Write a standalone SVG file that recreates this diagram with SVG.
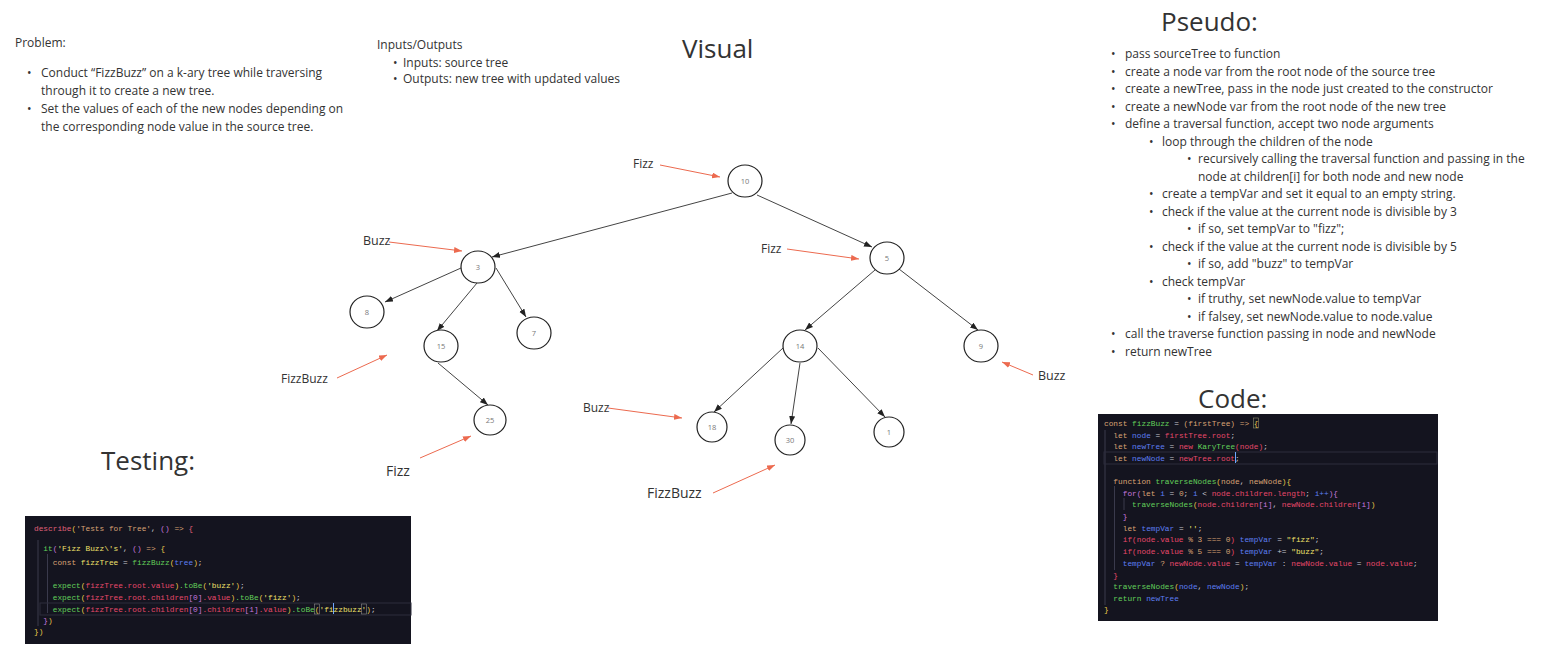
<svg xmlns="http://www.w3.org/2000/svg" width="1542" height="648" viewBox="0 0 1542 648">
<style>
.t{font-family:"Open Sans","Liberation Sans",sans-serif;fill:#333}
.b{font-size:12px}
.ti{font-size:26px;fill:#333}
.nt{font-family:"Open Sans","Liberation Sans",sans-serif;font-size:7.5px;fill:#777;text-anchor:middle}
.nd{fill:#fff;stroke:#222;stroke-width:1.2}
.e{stroke:#444;stroke-width:1;fill:none;marker-end:url(#ah)}
.a{stroke:#ec6a4f;stroke-width:1;fill:none;marker-end:url(#ar)}
.c text{font-family:"Liberation Mono","DejaVu Sans Mono",monospace;font-size:7.8px;fill:#c8c8d0;white-space:pre}
.k{fill:#d8a274}.f{fill:#62cf5a}.v{fill:#5d7ef2}.p{fill:#e6486a}.s{fill:#efe06a}.y{fill:#e8c84a}.u{fill:#c678dd}.r{fill:#e0607a}
.g{stroke:#3a3a4c;stroke-width:1}
</style>
<defs>
<marker id="ah" markerUnits="userSpaceOnUse" markerWidth="9" markerHeight="7" refX="8" refY="3" orient="auto"><path d="M0,0 L8,3 L0,6 z" fill="#222"/></marker>
<marker id="ar" markerUnits="userSpaceOnUse" markerWidth="9" markerHeight="7" refX="8" refY="3" orient="auto"><path d="M0,0 L8,3 L0,6 z" fill="#ec6a4f"/></marker>
</defs>
<rect width="1542" height="648" fill="#fff"/>

<g id="problem" class="t b">
<text x="15" y="47">Problem:</text>
<text x="27" y="77">•</text><text x="41" y="77">Conduct “FizzBuzz” on a k-ary tree while traversing</text>
<text x="41" y="95">through it to create a new tree.</text>
<text x="27" y="113">•</text><text x="41" y="113">Set the values of each of the new nodes depending on</text>
<text x="41" y="131">the corresponding node value in the source tree.</text>
</g>

<g id="io" class="t b">
<text x="377" y="49">Inputs/Outputs</text>
<text x="393" y="67">•</text><text x="403" y="67">Inputs: source tree</text>
<text x="393" y="83">•</text><text x="403" y="83">Outputs: new tree with updated values</text>
</g>

<g id="titles" class="t">
<text class="ti" x="682" y="58">Visual</text>
<text class="ti" x="1161" y="31">Pseudo:</text>
<text class="ti" x="1198" y="408" font-size="27">Code:</text>
<text class="ti" x="101" y="470">Testing:</text>
</g>

<g id="pseudo" class="t b">
<text x="1111" y="58">•</text><text x="1125" y="58">pass sourceTree to function</text>
<text x="1111" y="75.5">•</text><text x="1125" y="75.5">create a node var from the root node of the source tree</text>
<text x="1111" y="93">•</text><text x="1125" y="93">create a newTree, pass in the node just created to the constructor</text>
<text x="1111" y="110.5">•</text><text x="1125" y="110.5">create a newNode var from the root node of the new tree</text>
<text x="1111" y="128">•</text><text x="1125" y="128">define a traversal function, accept two node arguments</text>
<text x="1149" y="145.5">•</text><text x="1162" y="145.5">loop through the children of the node</text>
<text x="1187" y="163">•</text><text x="1198" y="163">recursively calling the traversal function and passing in the</text>
<text x="1198" y="180.5">node at children[i] for both node and new node</text>
<text x="1149" y="198">•</text><text x="1162" y="198">create a tempVar and set it equal to an empty string.</text>
<text x="1149" y="215.5">•</text><text x="1162" y="215.5">check if the value at the current node is divisible by 3</text>
<text x="1187" y="233">•</text><text x="1198" y="233">if so, set tempVar to "fizz";</text>
<text x="1149" y="250.5">•</text><text x="1162" y="250.5">check if the value at the current node is divisible by 5</text>
<text x="1187" y="268">•</text><text x="1198" y="268">if so, add "buzz" to tempVar</text>
<text x="1149" y="285.5">•</text><text x="1162" y="285.5">check tempVar</text>
<text x="1187" y="303">•</text><text x="1198" y="303">if truthy, set newNode.value to tempVar</text>
<text x="1187" y="320.5">•</text><text x="1198" y="320.5">if falsey, set newNode.value to node.value</text>
<text x="1111" y="338">•</text><text x="1125" y="338">call the traverse function passing in node and newNode</text>
<text x="1111" y="355.5">•</text><text x="1125" y="355.5">return newTree</text>
</g>

<g id="connectors">
<line class="e" x1="732" y1="193" x2="492" y2="257"/>
<line class="e" x1="757" y1="195" x2="872" y2="247"/>
<line class="e" x1="461" y1="268" x2="385" y2="302"/>
<line class="e" x1="477" y1="283" x2="437" y2="331"/>
<line class="e" x1="496" y1="268" x2="526" y2="317"/>
<line class="e" x1="438" y1="363" x2="488" y2="405"/>
<line class="e" x1="875" y1="270" x2="805" y2="330"/>
<line class="e" x1="899" y1="269" x2="978" y2="330"/>
<line class="e" x1="783" y1="348" x2="714" y2="412"/>
<line class="e" x1="800" y1="363" x2="791" y2="424"/>
<line class="e" x1="818" y1="348" x2="885" y2="417"/>
<line class="a" x1="660" y1="165" x2="720" y2="177"/>
<line class="a" x1="389" y1="242" x2="462" y2="251"/>
<line class="a" x1="787" y1="249" x2="859" y2="259"/>
<line class="a" x1="337" y1="378" x2="387" y2="355"/>
<line class="a" x1="420" y1="458" x2="471" y2="436"/>
<line class="a" x1="608" y1="408" x2="682" y2="418"/>
<line class="a" x1="713" y1="493" x2="775" y2="465"/>
<line class="a" x1="1033" y1="375" x2="1002" y2="362"/>
</g>

<g id="node-10"><ellipse class="nd" cx="745" cy="181" rx="17" ry="16"/><text class="nt" x="745" y="184">10</text></g>
<g id="node-3"><ellipse class="nd" cx="478" cy="267" rx="17" ry="16"/><text class="nt" x="478" y="270">3</text></g>
<g id="node-5"><ellipse class="nd" cx="887" cy="258" rx="17" ry="16"/><text class="nt" x="887" y="261">5</text></g>
<g id="node-8"><ellipse class="nd" cx="367" cy="312" rx="17" ry="16"/><text class="nt" x="367" y="315">8</text></g>
<g id="node-15"><ellipse class="nd" cx="441" cy="346" rx="17" ry="16"/><text class="nt" x="441" y="349">15</text></g>
<g id="node-7"><ellipse class="nd" cx="534" cy="333" rx="17" ry="16"/><text class="nt" x="534" y="336">7</text></g>
<g id="node-25"><ellipse class="nd" cx="490" cy="420" rx="16" ry="15"/><text class="nt" x="490" y="423">25</text></g>
<g id="node-14"><ellipse class="nd" cx="800" cy="346" rx="17" ry="16"/><text class="nt" x="800" y="349">14</text></g>
<g id="node-9"><ellipse class="nd" cx="981" cy="346" rx="17" ry="16"/><text class="nt" x="981" y="349">9</text></g>
<g id="node-18"><ellipse class="nd" cx="712" cy="427" rx="15" ry="15"/><text class="nt" x="712" y="430">18</text></g>
<g id="node-30"><ellipse class="nd" cx="790" cy="440" rx="15" ry="15"/><text class="nt" x="790" y="443">30</text></g>
<g id="node-1"><ellipse class="nd" cx="889" cy="432" rx="15" ry="15"/><text class="nt" x="889" y="435">1</text></g>

<g id="labels" class="t">
<text x="633" y="168" font-size="12">Fizz</text>
<text x="363" y="245" font-size="12.5">Buzz</text>
<text x="761" y="253" font-size="12">Fizz</text>
<text x="281" y="383" font-size="12">FizzBuzz</text>
<text x="386" y="476" font-size="14">Fizz</text>
<text x="583" y="412" font-size="12">Buzz</text>
<text x="647" y="498" font-size="14">FizzBuzz</text>
<text x="1038" y="380" font-size="12.5">Buzz</text>
</g>

<g id="code" class="c">
<rect x="1098" y="414" width="340" height="207" fill="#14141f"/>
<line class="g" x1="1105" y1="430" x2="1105" y2="605" stroke="#55556a"/>
<line class="g" x1="1114.5" y1="486" x2="1114.5" y2="570"/>
<line class="g" x1="1124" y1="498" x2="1124" y2="510"/>
<rect x="1104" y="452" width="333" height="12" fill="none" stroke="#2c2c3c"/>
<rect x="1253.5" y="418" width="5" height="10" fill="none" stroke="#8a8a6a" stroke-width="0.6"/>
<rect x="1235" y="452" width="1" height="11" fill="#6fa8ff"/>
<text x="1104" y="426" xml:space="preserve"><tspan class="k">const</tspan> <tspan class="f">fizzBuzz</tspan> = <tspan class="k">(firstTree)</tspan> <tspan class="k">=&gt;</tspan> <tspan class="y">{</tspan></text>
<text x="1104" y="438" xml:space="preserve">  <tspan class="k">let</tspan> <tspan class="v">node</tspan> = <tspan class="p">firstTree.root</tspan>;</text>
<text x="1104" y="449" xml:space="preserve">  <tspan class="k">let</tspan> <tspan class="v">newTree</tspan> = <tspan class="p">new</tspan> <tspan class="f">KaryTree</tspan><tspan class="p">(node)</tspan>;</text>
<text x="1104" y="461" xml:space="preserve">  <tspan class="k">let</tspan> <tspan class="v">newNode</tspan> = <tspan class="p">newTree.root</tspan>;</text>
<text x="1104" y="484" xml:space="preserve">  <tspan class="k">function</tspan> <tspan class="f">traverseNodes</tspan><tspan class="y">(</tspan><tspan class="k">node</tspan>, <tspan class="k">newNode</tspan><tspan class="y">){</tspan></text>
<text x="1104" y="496" xml:space="preserve">    <tspan class="u">for(</tspan><tspan class="k">let</tspan> <tspan class="v">i</tspan> = <tspan class="k">0</tspan>; <tspan class="v">i</tspan> &lt; <tspan class="p">node.children.length</tspan>; <tspan class="v">i++</tspan><tspan class="u">){</tspan></text>
<text x="1104" y="507" xml:space="preserve">      <tspan class="f">traverseNodes</tspan><tspan class="y">(</tspan><tspan class="p">node.children</tspan><tspan class="u">[i]</tspan>, <tspan class="p">newNode.children</tspan><tspan class="u">[i]</tspan><tspan class="y">)</tspan></text>
<text x="1104" y="519" xml:space="preserve">    <tspan class="u">}</tspan></text>
<text x="1104" y="531" xml:space="preserve">    <tspan class="k">let</tspan> <tspan class="v">tempVar</tspan> = <tspan class="s">''</tspan>;</text>
<text x="1104" y="542" xml:space="preserve">    <tspan class="p">if(node.value</tspan> <tspan class="k">% 3 === 0</tspan><tspan class="p">)</tspan> <tspan class="v">tempVar</tspan> = <tspan class="s">"fizz"</tspan>;</text>
<text x="1104" y="554" xml:space="preserve">    <tspan class="p">if(node.value</tspan> <tspan class="k">% 5 === 0</tspan><tspan class="p">)</tspan> <tspan class="v">tempVar</tspan> += <tspan class="s">"buzz"</tspan>;</text>
<text x="1104" y="566" xml:space="preserve">    <tspan class="v">tempVar</tspan> <tspan class="k">?</tspan> <tspan class="p">newNode.value</tspan> = <tspan class="v">tempVar</tspan> : <tspan class="p">newNode.value</tspan> = <tspan class="p">node.value</tspan>;</text>
<text x="1104" y="578" xml:space="preserve">  <tspan class="p">}</tspan></text>
<text x="1104" y="589" xml:space="preserve">  <tspan class="f">traverseNodes</tspan><tspan class="y">(</tspan><tspan class="v">node</tspan>, <tspan class="v">newNode</tspan><tspan class="y">)</tspan>;</text>
<text x="1104" y="601" xml:space="preserve">  <tspan class="f">return</tspan> <tspan class="v">newTree</tspan></text>
<text x="1104" y="612" xml:space="preserve"><tspan class="y">}</tspan></text>
</g>

<g id="testing" class="c">
<rect x="25" y="516" width="386" height="128" fill="#14141f"/>
<line class="g" x1="38" y1="540" x2="38" y2="626" stroke="#55556a"/>
<line class="g" x1="47.5" y1="554" x2="47.5" y2="613"/>
<rect x="40" y="603" width="371" height="12" fill="none" stroke="#2c2c3c"/>
<rect x="314.5" y="604" width="5" height="10" fill="none" stroke="#8a8a8a" stroke-width="0.6"/>
<rect x="361.5" y="604" width="5" height="10" fill="none" stroke="#8a8a8a" stroke-width="0.6"/>
<rect x="333" y="603" width="1" height="11" fill="#6fa8ff"/>
<text x="34" y="531" xml:space="preserve"><tspan class="r">describe</tspan><tspan class="y">(</tspan><tspan class="k">'Tests for Tree'</tspan>, <tspan class="u">()</tspan> <tspan class="k">=&gt;</tspan> <tspan class="r">{</tspan></text>
<text x="34" y="551" xml:space="preserve">  <tspan class="f">it</tspan><tspan class="u">(</tspan><tspan class="s">'Fizz Buzz\'s'</tspan>, <tspan class="u">()</tspan> <tspan class="k">=&gt;</tspan> <tspan class="y">{</tspan></text>
<text x="34" y="565" xml:space="preserve">    <tspan class="k">const</tspan> <tspan class="s">fizzTree</tspan> = <tspan class="f">fizzBuzz</tspan><tspan class="y">(</tspan><tspan class="v">tree</tspan><tspan class="y">)</tspan>;</text>
<text x="34" y="588" xml:space="preserve">    <tspan class="f">expect</tspan><tspan class="y">(</tspan><tspan class="p">fizzTree.root.value</tspan><tspan class="y">)</tspan><tspan class="f">.toBe</tspan><tspan class="y">(</tspan><tspan class="s">'buzz'</tspan><tspan class="y">)</tspan>;</text>
<text x="34" y="600" xml:space="preserve">    <tspan class="f">expect</tspan><tspan class="y">(</tspan><tspan class="p">fizzTree.root.children</tspan><tspan class="u">[0]</tspan><tspan class="p">.value</tspan><tspan class="y">)</tspan><tspan class="f">.toBe</tspan><tspan class="y">(</tspan><tspan class="s">'fizz'</tspan><tspan class="y">)</tspan>;</text>
<text x="34" y="612" xml:space="preserve">    <tspan class="f">expect</tspan><tspan class="y">(</tspan><tspan class="p">fizzTree.root.children</tspan><tspan class="u">[0]</tspan><tspan class="p">.children</tspan><tspan class="u">[1]</tspan><tspan class="p">.value</tspan><tspan class="y">)</tspan><tspan class="f">.toBe</tspan><tspan class="y">(</tspan><tspan class="s">'fizzbuzz'</tspan><tspan class="y">)</tspan>;</text>
<text x="34" y="623" xml:space="preserve">  <tspan class="u">}</tspan><tspan class="y">)</tspan></text>
<text x="34" y="634" xml:space="preserve"><tspan class="y">})</tspan></text>
</g>
</svg>
